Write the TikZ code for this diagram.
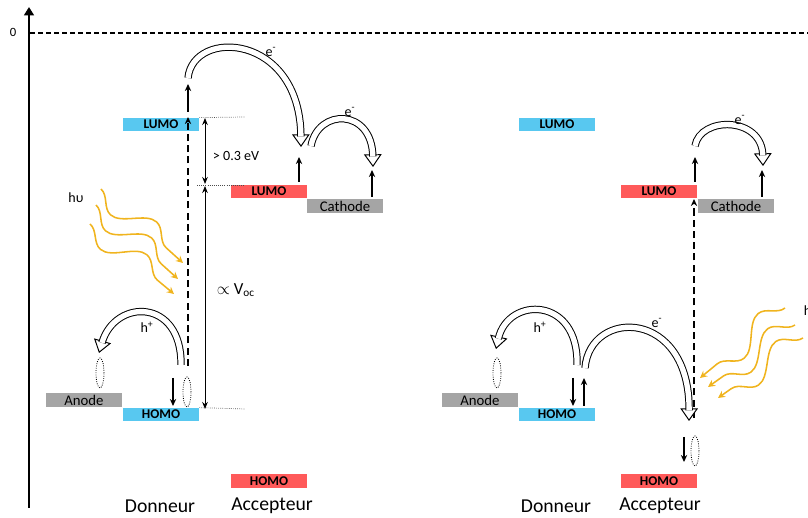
\documentclass[tikz,border=0pt]{standalone}
\usepackage{fontspec}
\setmainfont{Carlito}
\usepackage{tikz}
\usetikzlibrary{arrows.meta,decorations.pathmorphing,shapes.geometric}
\definecolor{donorblue}{RGB}{88,200,240}
\definecolor{accred}{RGB}{255,90,90}
\definecolor{electgray}{RGB}{165,165,165}
\definecolor{photonorange}{RGB}{240,180,30}
\tikzset{
    level/.style={minimum width=1.9cm, minimum height=0.33cm, inner sep=0pt,
        font=\fontsize{9.5}{10}\selectfont\bfseries},
    donor/.style={level, fill=donorblue},
    acceptor/.style={level, fill=accred},
    electrode/.style={level, fill=electgray, font=\fontsize{10.5}{11}\selectfont},
    hollowtip/.style={white, line width=0.3pt,
        -{Triangle[color=black, fill=white, line width=0.7pt, length=9pt, width=12.5pt]}},
    hollowshaft/.style={line width=0.7pt, double=white, double distance=3.8pt, shorten >=7.5pt},
    carrier/.style={line width=1.4pt, -{Stealth[length=5pt, width=4.5pt]}},
    transfer/.style={line width=1.2pt, dash pattern=on 5pt off 3pt},
    gap/.style={line width=0.7pt, {Stealth[length=5pt, width=4pt]}-{Stealth[length=5pt, width=4pt]}},
    guide/.style={densely dotted, gray!60!black, line width=0.5pt},
    photon/.style={photonorange, line width=1.1pt, decorate,
        decoration={snake, mirror, amplitude=0.32cm, segment length=1.95cm, post length=1.5mm},
        -{Stealth[length=5pt, width=5pt]}},
    pair/.style={draw, densely dotted, line width=0.6pt, ellipse, minimum width=0.2cm,
        minimum height=0.75cm, inner sep=0pt},
    lbl/.style={font=\fontsize{10}{11}\selectfont},
    side/.style={font=\fontsize{14}{15}\selectfont}
}
\newcommand{\hollowarc}[1]{
    \draw[hollowtip] #1;
    \draw[hollowshaft] #1;
}

\begin{document}
\begin{tikzpicture}[x=0.025cm, y=0.025cm]
    \useasboundingbox (0,0) rectangle (808,518);

    % energy axis and vacuum level
    \draw[line width=1.6pt, -{Triangle[length=6pt, width=7pt]}] (29,10) -- (29,511);
    \node[font=\fontsize{9}{10}\selectfont] (zero) at (13,486) {0};
    \draw[line width=1.2pt, dash pattern=on 3.5pt off 2.2pt] (30,485) -- (808,485);

    % left: donor excited
    \node[donor] (dL) at (161,393.5) {LUMO};
    \node[donor] (dH) at (161,103.5) {HOMO};
    \node[acceptor] (aL) at (269,326.5) {LUMO};
    \node[acceptor] (aH) at (269,37) {HOMO};
    \node[electrode] (cat) at (345,312) {Cathode};
    \node[electrode] (ano) at (84,118) {Anode};
    \node[side] (don) at (160,12) {Donneur};
    \node[side] (acc) at (272,12) {Accepteur};

    \draw[guide] (dL.north east) -- (245,401);
    \draw[guide] (197,333) -- (245,333);
    \draw[guide] (dH.north east) -- (245,109);
    \draw[gap] (205,400) -- (205,334);
    \draw[gap] (205,332) -- (205,109);
    \node[lbl, anchor=west] (gapl) at (208,362) {> 0.3 eV};
    \node[lbl, anchor=west, font=\fontsize{12}{13}\selectfont] (voc) at (212,228) {$\propto$ V\textsubscript{oc}};

    \draw[transfer, -{Stealth[length=5pt, width=4.5pt]}] (188,152) -- (188,401);
    \draw[carrier] (188,406) -- (188,434);
    \draw[carrier] (299,336) -- (299,361);
    \draw[carrier] (372,321) -- (372,348);
    \draw[carrier] (173,140) -- (173,112);

    \hollowarc{(188,440) .. controls (193,490) and (300,485) .. (301,371)}
    \hollowarc{(311,372) .. controls (318,410) and (372,410) .. (373,351)}
    \hollowarc{(181,153) .. controls (182,220) and (115,220) .. (99,165)}
    \node[lbl] (e1) at (271,466) {e\textsuperscript{-}};
    \node[lbl] (e2) at (350,406) {e\textsuperscript{-}};
    \node[lbl] (h1) at (147,191) {h\textsuperscript{+}};

    \node[pair] (x1) at (100,145) {};
    \node[pair] (x2) at (187,126) {};

    \node[lbl] (hv1) at (76,320) {hυ};
    \draw[photon] (101,329) -- (183,255);
    \draw[photon] (96,313) -- (178,239);
    \draw[photon] (90,294) -- (174,224);

    % right: acceptor excited
    \node[donor] (dL2) at (557,393.5) {LUMO};
    \node[donor] (dH2) at (557,103.5) {HOMO};
    \node[acceptor] (aL2) at (659,326.5) {LUMO};
    \node[acceptor] (aH2) at (659,37) {HOMO};
    \node[electrode] (cat2) at (736,312) {Cathode};
    \node[electrode] (ano2) at (480,118) {Anode};
    \node[side] (don2) at (556,12) {Donneur};
    \node[side] (acc2) at (660,12) {Accepteur};

    \draw[transfer, -{Stealth[length=5pt, width=4.5pt]}] (694,100) -- (694,319);
    \draw[carrier] (695,336) -- (695,361);
    \draw[carrier] (762,321) -- (762,348);
    \draw[carrier] (573,140) -- (573,112);
    \draw[carrier] (584,112) -- (584,140);
    \draw[carrier] (684,81) -- (684,56);

    \hollowarc{(695,372) .. controls (700,402) and (762,402) .. (763,352)}
    \hollowarc{(577,153) .. controls (579,222) and (508,222) .. (496,169)}
    \hollowarc{(585,150) .. controls (590,210) and (690,210) .. (689,97)}
    \node[lbl] (e3) at (740,398) {e\textsuperscript{-}};
    \node[lbl] (e4) at (657,195) {e\textsuperscript{-}};
    \node[lbl] (h2) at (540,191) {h\textsuperscript{+}};

    \node[pair] (x3) at (497,145) {};
    \node[pair] (x4) at (695,67) {};

    \node[lbl, anchor=west] (hv2) at (799,207) {hυ};
    \draw[photon] (785,210) -- (700,140);
    \draw[photon] (795,193) -- (708,131);
    \draw[photon] (803,180) -- (718,120);
\end{tikzpicture}
\end{document}
